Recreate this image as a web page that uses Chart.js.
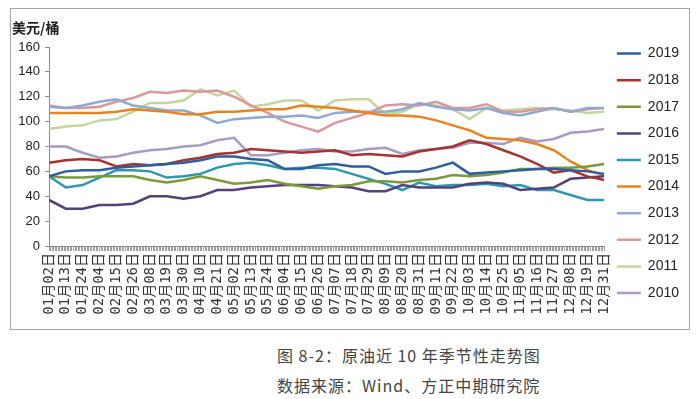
<!DOCTYPE html>
<html>
<head>
<meta charset="utf-8">
<script src="https://cdn.jsdelivr.net/npm/chart.js@4"></script>
<style>
    body { margin: 0; background: #fff; width: 700px; height: 399px; position: relative; overflow: hidden; }
    #frame { position: absolute; left: 10px; top: 8px; width: 678px; height: 320px; border: 1px solid #a6a6a6; }
    #frame canvas { position: absolute; left: 0; top: 0; }
    #unit { position: absolute; left: 1px; top: 9px; font: bold 14px "Noto Sans CJK SC", sans-serif; color: #222; line-height: 18px; z-index: 2; }
    .cap { position: absolute; left: 277px; font: 16px "Noto Sans CJK SC", sans-serif; color: #444; letter-spacing: 1px; line-height: 18px; }
</style>
</head>
<body>
<div id="frame">
    <div id="unit">美元/桶</div>
    <canvas id="oilChart" width="678" height="320"></canvas>
</div>
<div class="cap" style="top:346px">图 8-2：原油近 10 年季节性走势图</div>
<div class="cap" style="top:376px">数据来源：Wind、方正中期研究院</div>

<script>
// tick labels, one every 11 days
const dateLabels = ["01月02日", "01月13日", "01月24日", "02月04日", "02月15日", "02月26日", "03月08日",
    "03月19日", "03月30日", "04月10日", "04月21日", "05月02日", "05月13日", "05月24日", "06月04日",
    "06月15日", "06月26日", "07月07日", "07月18日", "07月29日", "08月09日", "08月20日", "08月31日",
    "09月11日", "09月22日", "10月03日", "10月14日", "10月25日", "11月05日", "11月16日", "11月27日",
    "12月08日", "12月19日", "12月31日"];
const DAY_STEP = 11;

// values read at each tick label (USD / barrel)
const y2019 = [56, 60, 61, 61, 63, 64, 65, 66, 67, 69, 72, 72, 70, 69, 62, 62, 65, 66, 64, 64, 58, 60, 60, 63, 67, 58, 59, 60, 61, 62, 62, 61, 60, 58];
const y2018 = [67, 69, 70, 69, 64, 66, 65, 66, 69, 71, 74, 75, 78, 77, 76, 75, 76, 77, 73, 74, 73, 72, 76, 78, 80, 85, 82, 77, 72, 66, 59, 61, 56, 53];
const y2017 = [56, 55, 55, 56, 56, 56, 53, 51, 53, 56, 53, 50, 51, 53, 50, 48, 46, 48, 49, 52, 52, 51, 53, 54, 57, 56, 57, 59, 62, 62, 63, 63, 64, 66];
const y2016 = [37, 30, 30, 33, 33, 34, 40, 40, 38, 40, 45, 45, 47, 48, 49, 49, 49, 48, 47, 44, 44, 49, 47, 47, 47, 50, 51, 50, 45, 46, 47, 54, 55, 56];
const y2015 = [56, 47, 49, 55, 61, 61, 60, 55, 56, 58, 63, 66, 67, 65, 62, 63, 63, 62, 58, 54, 50, 45, 51, 48, 49, 49, 50, 48, 49, 45, 45, 41, 37, 37];
const y2014 = [107, 107, 107, 107, 108, 110, 109, 108, 106, 106, 108, 108, 109, 110, 110, 113, 112, 111, 109, 107, 105, 105, 104, 101, 97, 93, 87, 86, 85, 82, 77, 68, 61, 57];
const y2013 = [112, 111, 113, 116, 118, 113, 111, 109, 109, 105, 99, 102, 103, 104, 104, 105, 103, 107, 108, 108, 108, 110, 115, 112, 110, 109, 111, 107, 105, 108, 111, 108, 111, 111];
const y2012 = [113, 111, 111, 112, 116, 119, 124, 123, 125, 124, 125, 120, 113, 107, 100, 96, 92, 99, 103, 107, 113, 114, 113, 116, 111, 111, 114, 108, 108, 110, 111, 108, 110, 111];
const y2011 = [94, 96, 97, 101, 102, 108, 115, 115, 117, 126, 121, 125, 112, 114, 117, 117, 109, 117, 118, 118, 106, 108, 114, 113, 110, 102, 111, 109, 110, 111, 110, 109, 107, 108];
const y2010 = [80, 80, 75, 71, 72, 75, 77, 78, 80, 81, 85, 87, 73, 73, 75, 77, 78, 76, 76, 78, 79, 74, 77, 78, 79, 83, 83, 82, 87, 84, 86, 91, 92, 94];

const seriesNames = ["2019", "2018", "2017", "2016", "2015", "2014", "2013", "2012", "2011", "2010"];
const seriesValues = [y2019, y2018, y2017, y2016, y2015, y2014, y2013, y2012, y2011, y2010];
const seriesColors = ["#2e5e9e", "#a8322d", "#7a9a3a", "#54407a", "#2f98b0",
    "#e8831e", "#8fa9d3", "#dc979a", "#c3d69b", "#a99bc6"];

// legend sits a bit higher than chart.js puts it
const legendNudge = {
    id: "legendNudge",
    afterLayout(chart) {
        chart.legend.top = chart.chartArea.top - 13;
    }
};

const datasets = seriesNames.map((name, k) => ({
    label: name,
    data: seriesValues[k].map((v, i) => ({ x: i * DAY_STEP, y: v })),
    borderColor: seriesColors[k],
    backgroundColor: seriesColors[k],
    borderWidth: 2.5,
    pointRadius: 0,
    tension: 0
}));

new Chart(document.getElementById("oilChart").getContext("2d"), {
    type: "line",
    data: { datasets },
    plugins: [legendNudge],
    options: {
        responsive: false,
        animation: false,
        layout: { padding: { top: 38, right: 0, bottom: 0, left: 0 } },
        plugins: {
            legend: {
                position: "right",
                align: "start",
                labels: {
                    usePointStyle: true,
                    pointStyle: "line",
                    pointStyleWidth: 24,
                    padding: 12.6,
                    color: "#222",
                    font: { family: '"Liberation Sans Narrow", "Liberation Sans", sans-serif', size: 14 }
                }
            },
            tooltip: { enabled: false }
        },
        scales: {
            x: {
                type: "linear",
                min: 0,
                max: (dateLabels.length - 1) * DAY_STEP,
                border: { color: "#8c8c8c" },
                grid: { drawOnChartArea: false, tickLength: 5, color: "#a0a0a0" },
                ticks: {
                    stepSize: 1,
                    maxTicksLimit: 500,
                    autoSkip: false,
                    minRotation: 90,
                    maxRotation: 90,
                    padding: 2,
                    color: "#333",
                    font: { family: '"DejaVu Sans Mono", "Noto Sans CJK SC"', size: 14 },
                    callback: v => (v % DAY_STEP === 0 ? dateLabels[v / DAY_STEP] : "")
                },
                afterFit(scale) {
                    scale.height = 83;
                }
            },
            y: {
                min: 0,
                max: 160,
                border: { color: "#8c8c8c" },
                grid: { drawOnChartArea: false, tickLength: 4, color: "#8c8c8c" },
                ticks: {
                    stepSize: 20,
                    padding: 5,
                    color: "#222",
                    font: { family: '"Liberation Sans", sans-serif', size: 13 }
                },
                afterFit(scale) {
                    scale.width = 38;
                }
            }
        }
    }
});
</script>
</body>
</html>
